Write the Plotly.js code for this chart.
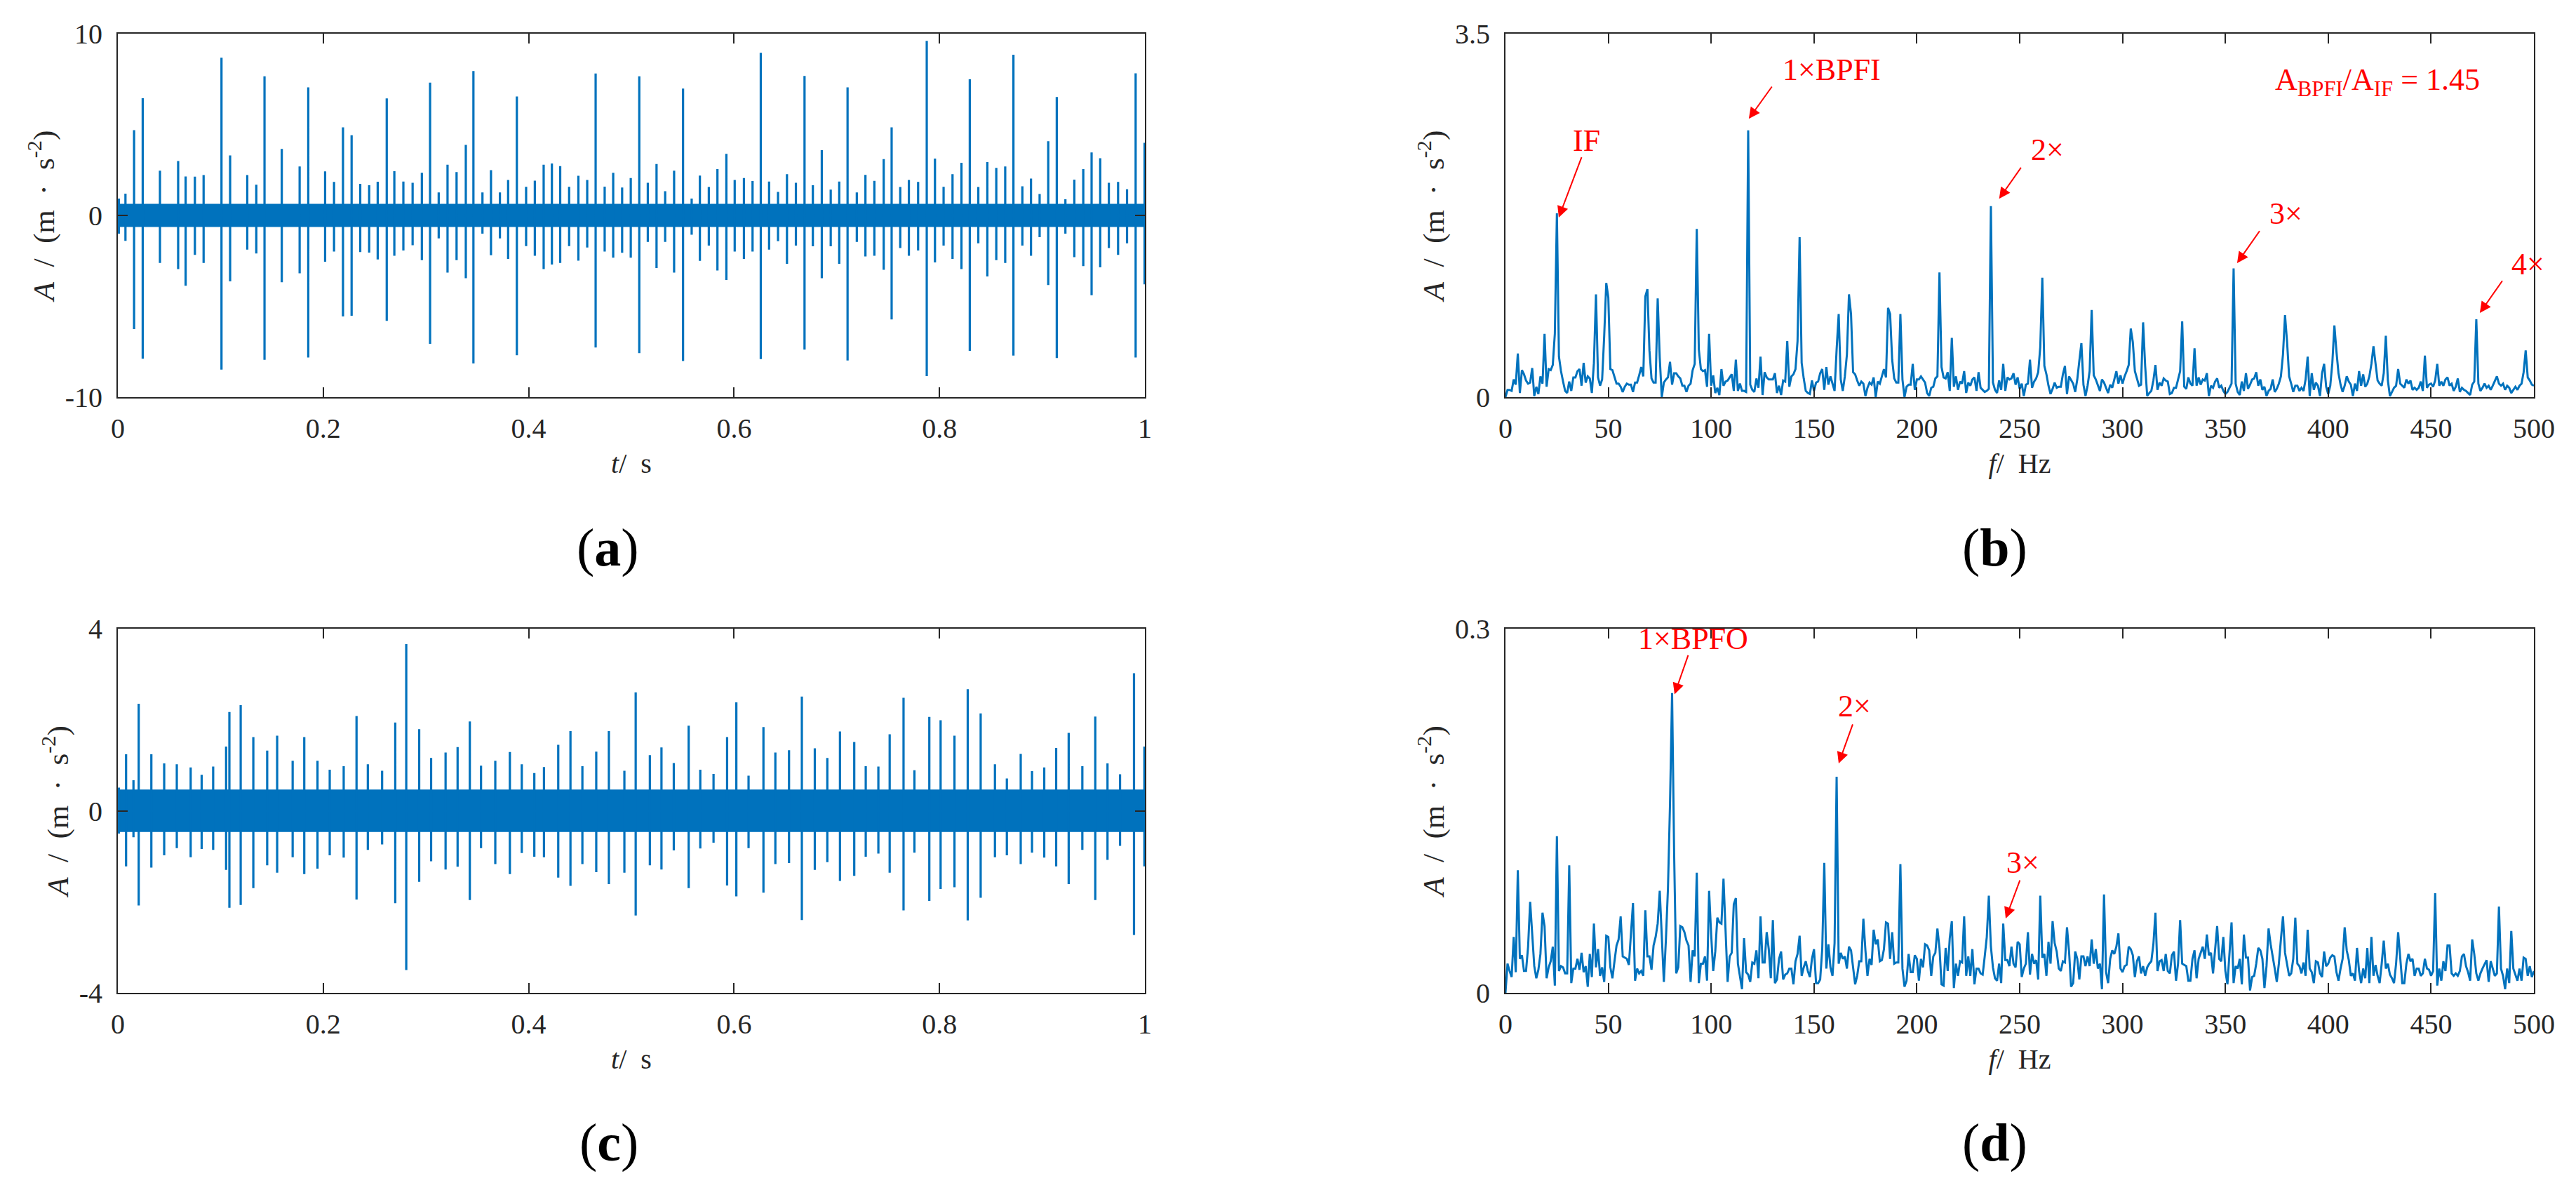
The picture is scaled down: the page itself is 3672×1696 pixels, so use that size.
<!DOCTYPE html>
<html>
<head>
<meta charset="utf-8">
<script src="https://cdn.plot.ly/plotly-3.0.1.min.js"></script>
<style>html,body{margin:0;padding:0;background:#fff;}#chart{width:3672px;height:1696px;}</style>
</head>
<body>
<div id="chart"></div>
<script>
// ---------- (a) time signal, inner-race fault: impulse times, positive and negative peaks ----------
const tA = [0.001,0.0074,0.0158,0.0242,0.041,0.0587,0.066,0.075,0.0835,0.1009,0.1093,0.126,0.1348,0.1428,0.1596,0.177,0.1854,0.2018,0.2105,0.2192,0.2276,0.236,0.2447,0.253,0.2618,0.2692,0.278,0.287,0.296,0.304,0.3124,0.321,0.3298,0.3388,0.3462,0.355,0.3633,0.372,0.380,0.3885,0.3975,0.406,0.4146,0.4226,0.4307,0.4394,0.4484,0.457,0.4652,0.474,0.4823,0.491,0.4994,0.5077,0.516,0.5245,0.5329,0.5416,0.5503,0.5587,0.5667,0.5754,0.5838,0.5925,0.6006,0.6096,0.618,0.626,0.6341,0.6428,0.6515,0.6602,0.6686,0.6767,0.6854,0.6941,0.7024,0.7105,0.7195,0.7279,0.7366,0.7457,0.7534,0.7618,0.7702,0.7792,0.7876,0.7956,0.804,0.8127,0.8214,0.8295,0.8378,0.8466,0.8553,0.864,0.872,0.8807,0.8891,0.8975,0.9059,0.9142,0.9226,0.9313,0.94,0.9481,0.9565,0.9649,0.9739,0.9826,0.991,0.9997];
const upA = [0.93,1.20,4.69,6.45,2.46,2.99,2.14,2.13,2.22,8.68,3.30,2.22,1.69,7.65,3.66,2.69,7.05,2.42,1.84,4.85,4.41,1.74,1.66,1.85,6.44,2.43,1.86,1.80,2.35,7.31,1.26,2.79,2.38,3.88,7.94,1.26,2.49,1.26,1.95,6.54,1.57,1.91,2.79,2.86,2.71,1.57,2.18,1.95,7.81,1.58,2.35,1.53,2.06,7.65,1.80,2.83,1.33,2.46,6.98,0.93,2.19,1.56,2.55,3.39,1.95,2.06,1.89,8.95,1.86,1.29,2.27,1.80,7.67,1.66,3.59,1.42,1.86,7.05,1.26,2.23,1.90,3.10,4.85,1.56,1.95,1.84,9.60,3.13,1.57,2.27,2.90,7.49,1.56,2.93,2.62,2.69,8.84,1.60,2.03,1.18,4.08,6.52,0.89,1.97,2.55,3.47,3.15,1.80,1.84,1.44,7.82,4.00];
const dnA = [-1.00,-1.40,-6.25,-7.89,-2.62,-2.95,-3.87,-2.17,-2.62,-8.48,-3.63,-1.88,-2.09,-7.94,-3.68,-3.19,-7.82,-2.55,-1.99,-5.56,-5.52,-2.02,-2.05,-2.42,-5.80,-2.22,-1.93,-1.64,-2.46,-7.07,-1.26,-3.15,-2.46,-3.46,-8.15,-1.00,-2.19,-1.26,-2.39,-7.69,-1.69,-2.22,-2.95,-2.70,-2.62,-1.69,-2.49,-1.77,-7.27,-1.99,-2.33,-2.06,-2.33,-7.58,-1.46,-2.90,-1.46,-3.15,-8.01,-1.06,-2.50,-1.66,-3.03,-3.55,-1.99,-2.39,-1.99,-7.91,-1.88,-1.42,-2.66,-1.66,-7.38,-1.70,-3.46,-1.70,-2.66,-7.98,-1.46,-2.26,-2.22,-2.99,-5.72,-1.80,-2.22,-1.93,-8.84,-2.59,-1.66,-2.39,-2.95,-7.45,-1.53,-3.36,-2.46,-2.62,-7.71,-1.66,-2.22,-1.20,-3.83,-7.85,-1.00,-2.30,-2.79,-4.39,-2.86,-1.80,-2.17,-1.53,-7.82,-3.79];
const noiseA = 0.6;   // half-width of the dense background band in (a)

// ---------- (c) time signal, outer-race fault ----------
const tC = [0.001,0.008,0.0152,0.0203,0.0326,0.0451,0.0574,0.0709,0.0816,0.0928,0.1054,0.1086,0.1196,0.1319,0.1454,0.1551,0.1702,0.1815,0.1944,0.2063,0.2199,0.2324,0.2434,0.2573,0.2701,0.2808,0.2934,0.305,0.3191,0.3308,0.3427,0.3536,0.3675,0.3817,0.3933,0.4055,0.4149,0.4288,0.4407,0.4523,0.4658,0.4781,0.4932,0.5042,0.518,0.5293,0.5413,0.5558,0.5671,0.58,0.5932,0.6022,0.6141,0.6286,0.6402,0.6535,0.666,0.6786,0.6908,0.7031,0.717,0.7282,0.7405,0.7515,0.765,0.7756,0.7901,0.8011,0.8146,0.8275,0.8401,0.854,0.8656,0.8791,0.8901,0.902,0.9136,0.9258,0.9391,0.9517,0.9636,0.9758,0.9894,0.9995];
const upC = [0.51,1.24,0.67,2.35,1.24,1.04,1.02,0.95,0.79,0.97,1.41,2.17,2.32,1.62,1.32,1.65,1.10,1.62,1.10,0.90,0.98,2.08,1.02,0.88,1.94,3.66,1.79,1.16,1.28,1.40,1.96,0.99,1.10,1.29,1.02,0.83,0.96,1.45,1.75,0.98,1.30,1.75,0.88,2.60,1.22,1.39,1.05,1.87,0.90,0.81,1.62,2.38,0.77,1.84,1.28,1.33,2.51,1.37,1.16,1.74,1.51,0.98,0.97,1.68,2.48,0.89,2.06,1.99,1.65,2.67,2.14,1.02,0.71,1.25,0.87,0.95,1.38,1.71,0.98,2.07,1.04,0.80,3.02,1.41];
const dnC = [-0.50,-1.22,-0.58,-2.08,-1.25,-0.98,-0.82,-1.02,-0.84,-0.86,-1.30,-2.13,-2.07,-1.70,-1.20,-1.36,-1.02,-1.39,-1.27,-0.98,-1.03,-1.95,-0.86,-0.74,-2.03,-3.50,-1.56,-1.11,-1.29,-1.23,-1.96,-0.82,-1.17,-1.39,-0.93,-1.01,-1.02,-1.47,-1.65,-1.17,-1.35,-1.61,-1.36,-2.30,-1.20,-1.29,-0.87,-1.70,-0.83,-0.70,-1.64,-1.88,-0.82,-1.80,-1.17,-1.15,-2.40,-1.30,-1.13,-1.54,-1.43,-1.01,-0.94,-1.36,-2.19,-0.92,-1.98,-1.72,-1.68,-2.41,-1.91,-1.02,-0.98,-1.17,-0.92,-1.03,-1.22,-1.61,-0.86,-1.96,-1.08,-0.77,-2.73,-1.22];
const noiseC = 0.45;  // half-width of the dense background band in (c)

// ---------- (b) envelope spectrum, 0..500 Hz at 1 Hz ----------
const specB = [
0,0.07,0.07,0.06,0.17,0.12,0.42,0.04,0.26,0.22,
0.16,0.13,0.14,0.28,0.01,0.10,0.03,0.20,0.13,0.61,
0.10,0.27,0.26,0.31,0.61,1.77,0.39,0.25,0.15,0.06,
0.04,0.15,0.06,0.19,0.19,0.25,0.27,0.11,0.33,0.14,
0.20,0.18,0.04,0.33,0.99,0.19,0.11,0.17,0.59,1.10,
0.96,0.27,0.26,0.20,0.13,0.13,0.10,0.05,0.10,0.13,
0.12,0.12,0.05,0.14,0.14,0.21,0.29,0.20,0.97,1.04,
0.45,0.18,0.14,0.14,0.95,0.38,0.00,0.14,0.17,0.19,
0.34,0.12,0.23,0.23,0.20,0.18,0.11,0.11,0.05,0.11,
0.13,0.26,0.32,1.62,0.46,0.27,0.25,0.26,0.10,0.61,
0.11,0.21,0.04,0.09,0.02,0.27,0.11,0.15,0.16,0.19,
0.22,0.06,0.36,0.06,0.13,0.06,0.06,0.05,2.57,0.12,
0.07,0.05,0.18,0.09,0.39,0.02,0.24,0.19,0.17,0.17,
0.17,0.23,0.04,0.11,0.02,0.16,0.15,0.54,0.10,0.20,
0.22,0.27,0.54,1.54,0.33,0.18,0.06,0.04,0.03,0.16,
0.06,0.14,0.15,0.23,0.27,0.07,0.29,0.12,0.20,0.13,
0.06,0.46,0.80,0.17,0.06,0.20,0.41,0.99,0.80,0.24,
0.22,0.16,0.11,0.15,0.13,0.01,0.09,0.14,0.12,0.19,
0.00,0.15,0.13,0.20,0.27,0.19,0.86,0.80,0.36,0.18,
0.14,0.14,0.80,0.17,0.00,0.10,0.12,0.12,0.32,0.07,
0.17,0.17,0.20,0.17,0.14,0.04,0.01,0.09,0.10,0.18,
0.20,1.20,0.29,0.19,0.18,0.24,0.06,0.57,0.10,0.20,
0.07,0.15,0.13,0.25,0.04,0.14,0.11,0.17,0.19,0.06,
0.24,0.09,0.07,0.05,0.06,0.08,1.84,0.14,0.07,0.04,
0.16,0.07,0.32,0.06,0.19,0.17,0.18,0.23,0.12,0.19,
0.08,0.13,0.01,0.12,0.13,0.36,0.09,0.15,0.18,0.24,
0.48,1.15,0.30,0.22,0.11,0.03,0.08,0.14,0.09,0.10,
0.10,0.22,0.30,0.03,0.20,0.16,0.13,0.05,0.17,0.35,
0.52,0.12,0.01,0.11,0.25,0.84,0.21,0.17,0.11,0.06,
0.17,0.14,0.09,0.04,0.12,0.09,0.17,0.25,0.13,0.21,
0.13,0.20,0.25,0.31,0.66,0.53,0.25,0.17,0.11,0.12,
0.72,0.30,0.01,0.04,0.06,0.16,0.31,0.07,0.14,0.11,
0.18,0.16,0.15,0.03,0.04,0.09,0.09,0.17,0.25,0.73,
0.10,0.08,0.19,0.13,0.11,0.47,0.11,0.19,0.12,0.17,
0.16,0.23,0.01,0.11,0.09,0.15,0.18,0.09,0.11,0.06,
0.03,0.05,0.09,0.13,1.24,0.13,0.05,0.02,0.15,0.06,
0.23,0.08,0.12,0.17,0.18,0.24,0.11,0.17,0.07,0.10,
0.01,0.06,0.08,0.17,0.05,0.08,0.13,0.20,0.41,0.79,
0.53,0.20,0.13,0.05,0.11,0.11,0.06,0.09,0.06,0.17,
0.39,0.01,0.23,0.07,0.14,0.11,0.01,0.23,0.32,0.10,
0.03,0.11,0.33,0.69,0.44,0.23,0.12,0.05,0.11,0.20,
0.15,0.12,0.01,0.13,0.06,0.25,0.11,0.22,0.10,0.13,
0.20,0.32,0.49,0.31,0.16,0.13,0.11,0.23,0.59,0.16,
0.01,0.05,0.09,0.11,0.27,0.13,0.11,0.09,0.17,0.13,
0.16,0.07,0.09,0.07,0.09,0.15,0.06,0.40,0.09,0.12,
0.13,0.10,0.16,0.32,0.11,0.15,0.11,0.17,0.19,0.11,
0.13,0.06,0.10,0.18,0.05,0.09,0.07,0.06,0.04,0.02,
0.12,0.15,0.75,0.13,0.06,0.09,0.13,0.09,0.11,0.07,
0.11,0.15,0.20,0.13,0.11,0.13,0.07,0.11,0.09,0.04,
0.07,0.10,0.07,0.11,0.13,0.24,0.45,0.19,0.16,0.12,
0.11];

// ---------- (d) envelope spectrum, 0..500 Hz at 1 Hz ----------
const specD = [
0.000,0.024,0.018,0.013,0.046,0.017,0.101,0.028,0.031,0.018,
0.018,0.038,0.075,0.050,0.022,0.012,0.019,0.032,0.066,0.055,
0.012,0.021,0.026,0.038,0.006,0.129,0.018,0.022,0.021,0.016,
0.016,0.105,0.008,0.020,0.020,0.028,0.019,0.033,0.017,0.022,
0.005,0.032,0.013,0.057,0.021,0.036,0.014,0.021,0.009,0.047,
0.046,0.021,0.012,0.026,0.039,0.044,0.063,0.030,0.029,0.028,
0.023,0.048,0.074,0.010,0.020,0.016,0.018,0.014,0.068,0.030,
0.030,0.019,0.039,0.046,0.057,0.084,0.044,0.009,0.044,0.086,
0.156,0.247,0.115,0.016,0.021,0.055,0.054,0.050,0.043,0.039,
0.009,0.035,0.030,0.099,0.008,0.024,0.024,0.030,0.010,0.084,
0.048,0.018,0.034,0.062,0.058,0.057,0.094,0.046,0.009,0.030,
0.033,0.073,0.078,0.024,0.013,0.003,0.045,0.017,0.015,0.009,
0.025,0.024,0.035,0.012,0.063,0.025,0.025,0.050,0.036,0.012,
0.060,0.008,0.011,0.028,0.034,0.011,0.015,0.016,0.020,0.020,
0.007,0.026,0.032,0.047,0.014,0.021,0.026,0.018,0.013,0.028,
0.036,0.008,0.008,0.011,0.036,0.107,0.020,0.040,0.021,0.014,
0.041,0.178,0.024,0.033,0.028,0.030,0.020,0.038,0.035,0.021,
0.007,0.014,0.026,0.026,0.061,0.035,0.014,0.028,0.023,0.052,
0.040,0.044,0.026,0.027,0.036,0.058,0.057,0.028,0.050,0.024,
0.025,0.025,0.106,0.020,0.005,0.010,0.032,0.017,0.017,0.031,
0.028,0.010,0.028,0.021,0.040,0.039,0.035,0.014,0.030,0.033,
0.053,0.037,0.007,0.006,0.037,0.018,0.045,0.059,0.004,0.024,
0.014,0.026,0.025,0.063,0.014,0.030,0.014,0.036,0.007,0.020,
0.020,0.016,0.015,0.030,0.046,0.080,0.038,0.021,0.012,0.010,
0.024,0.008,0.057,0.027,0.027,0.022,0.038,0.024,0.021,0.042,
0.040,0.013,0.020,0.024,0.050,0.015,0.032,0.024,0.027,0.011,
0.080,0.029,0.032,0.014,0.042,0.024,0.059,0.041,0.034,0.020,
0.018,0.026,0.025,0.054,0.034,0.005,0.008,0.034,0.028,0.011,
0.030,0.030,0.022,0.030,0.022,0.044,0.024,0.036,0.020,0.024,
0.003,0.081,0.017,0.008,0.028,0.035,0.032,0.038,0.049,0.020,
0.017,0.022,0.023,0.038,0.036,0.031,0.013,0.026,0.030,0.016,
0.022,0.014,0.021,0.024,0.026,0.040,0.066,0.018,0.026,0.027,
0.018,0.032,0.018,0.016,0.031,0.034,0.010,0.024,0.060,0.024,
0.023,0.022,0.010,0.010,0.028,0.035,0.012,0.028,0.033,0.038,
0.028,0.048,0.031,0.033,0.016,0.036,0.055,0.028,0.026,0.046,
0.018,0.007,0.032,0.058,0.008,0.022,0.020,0.028,0.007,0.048,
0.029,0.029,0.002,0.013,0.014,0.024,0.037,0.035,0.028,0.004,
0.022,0.053,0.040,0.031,0.020,0.009,0.024,0.044,0.063,0.033,
0.024,0.014,0.016,0.028,0.062,0.024,0.022,0.016,0.025,0.014,
0.052,0.020,0.017,0.008,0.026,0.025,0.016,0.013,0.034,0.022,
0.024,0.029,0.031,0.030,0.017,0.010,0.020,0.028,0.054,0.035,
0.027,0.014,0.016,0.010,0.037,0.018,0.008,0.020,0.012,0.037,
0.008,0.046,0.014,0.023,0.014,0.008,0.024,0.043,0.020,0.024,
0.015,0.012,0.008,0.024,0.050,0.028,0.008,0.008,0.024,0.032,
0.026,0.028,0.014,0.020,0.020,0.014,0.016,0.028,0.020,0.019,
0.014,0.018,0.082,0.006,0.020,0.010,0.026,0.018,0.039,0.039,
0.016,0.014,0.016,0.014,0.018,0.030,0.032,0.022,0.017,0.010,
0.044,0.032,0.016,0.010,0.016,0.020,0.024,0.027,0.009,0.026,
0.020,0.014,0.016,0.071,0.020,0.014,0.003,0.020,0.008,0.051,
0.020,0.015,0.010,0.020,0.010,0.029,0.028,0.014,0.022,0.013,
0.018];

const timeTicks = [0,0.2,0.4,0.6,0.8,1];
const timeTickText = ['0','0.2','0.4','0.6','0.8','1'];
const freqTicks = [0,50,100,150,200,250,300,350,400,450,500];

// ---------- build traces ----------
const BLUE = '#0072BD';
function spikes(t, up, dn, xa, ya){
  const x = [], y = [];
  for (let i = 0; i < t.length; i++){ x.push(t[i], t[i], t[i], t[i]); y.push(0, up[i], dn[i], 0); }
  return {x, y, xaxis: xa, yaxis: ya, type: 'scatter', mode: 'lines', line: {color: BLUE, width: 3.2}, hoverinfo: 'skip'};
}
function band(h, xa, ya){
  return {x: [0, 1, 1, 0, 0], y: [h, h, -h, -h, h], xaxis: xa, yaxis: ya, type: 'scatter', mode: 'lines',
    fill: 'toself', fillcolor: BLUE, line: {color: BLUE, width: 2}, hoverinfo: 'skip'};
}
function spec(vals, xa, ya){
  return {x: vals.map((v, i) => i), y: vals, xaxis: xa, yaxis: ya, type: 'scatter', mode: 'lines',
    line: {color: BLUE, width: 3}, hoverinfo: 'skip'};
}
const traces = [
  band(noiseA, 'x', 'y'), spikes(tA, upA, dnA, 'x', 'y'),
  spec(specB, 'x2', 'y2'),
  band(noiseC, 'x3', 'y3'), spikes(tC, upC, dnC, 'x3', 'y3'),
  spec(specD, 'x4', 'y4')
];

// ---------- layout ----------
const FONT = "'Liberation Serif', 'Times New Roman', serif";
const AX = '#262626';
const W = 3672, H = 1696;
const domL = [168 / W, 1632 / W], domR = [2146 / W, 3612 / W];
const domT = [1 - 566 / H, 1 - 48 / H], domB = [1 - 1415 / H, 1 - 896 / H];
function xax(dom, anchor, range, tv, tt, title){
  const a = {domain: dom, anchor: anchor, range: range, tickmode: 'array', tickvals: tv,
    showline: true, mirror: 'ticks', linecolor: AX, linewidth: 2, ticks: 'inside', ticklen: 14, tickwidth: 2, tickcolor: AX,
    showgrid: false, zeroline: false, ticklabelstandoff: 8,
    tickfont: {family: FONT, size: 40, color: AX},
    title: {text: title, font: {family: FONT, size: 40, color: AX}, standoff: 14}};
  if (tt) a.ticktext = tt;
  return a;
}
function yax(dom, anchor, range, tv, tt){
  return {domain: dom, anchor: anchor, range: range, tickmode: 'array', tickvals: tv, ticktext: tt,
    showline: true, mirror: 'ticks', linecolor: AX, linewidth: 2, ticks: 'inside', ticklen: 14, tickwidth: 2, tickcolor: AX,
    showgrid: false, zeroline: false, ticklabelstandoff: 12,
    tickfont: {family: FONT, size: 40, color: AX},
    title: {text: '<i>A</i>  /  (m  ·  s<sup>-2</sup>)', font: {family: FONT, size: 43, color: AX}, standoff: 2}};
}
const RED = '#FF0000';
function lbl(text, xr, yr, x, y){
  return {text, xref: xr, yref: yr, x, y, showarrow: false, font: {family: FONT, size: 44, color: RED}, xanchor: 'center', yanchor: 'middle'};
}
function arr(xr, yr, x0, y0, x1, y1){
  return {text: '', xref: xr, yref: yr, axref: xr, ayref: yr, x: x1, y: y1, ax: x0, ay: y0,
    showarrow: true, arrowhead: 2, arrowsize: 1.6, arrowwidth: 2, arrowcolor: RED, standoff: 0, startstandoff: 0};
}
function panel(text, x, y){
  return {text, xref: 'paper', yref: 'paper', x: x / W, y: 1 - y / H, showarrow: false,
    font: {family: FONT, size: 76, color: '#000'}, xanchor: 'center', yanchor: 'middle'};
}
const annotations = [
  lbl('IF', 'x2', 'y2', 39.3, 2.47), arr('x2', 'y2', 37.2, 2.32, 25.9, 1.73),
  lbl('1×BPFI', 'x2', 'y2', 158.6, 3.15), arr('x2', 'y2', 129.9, 3.0, 118.3, 2.68),
  lbl('2×', 'x2', 'y2', 263.5, 2.38), arr('x2', 'y2', 251, 2.22, 240, 1.91),
  lbl('3×', 'x2', 'y2', 379.6, 1.77), arr('x2', 'y2', 367, 1.61, 355.7, 1.29),
  lbl('4×', 'x2', 'y2', 497, 1.28), arr('x2', 'y2', 485, 1.13, 473.7, 0.81),
  lbl('A<sub>BPFI</sub>/A<sub>IF</sub> = 1.45', 'x2', 'y2', 424, 3.04),
  lbl('1×BPFO', 'x4', 'y4', 91.4, 0.2916), arr('x4', 'y4', 89, 0.279, 82.2, 0.246),
  lbl('2×', 'x4', 'y4', 169.8, 0.2364), arr('x4', 'y4', 169, 0.222, 162, 0.189),
  lbl('3×', 'x4', 'y4', 251.4, 0.1075), arr('x4', 'y4', 250.3, 0.0936, 243.2, 0.0613),
  panel('(<b>a</b>)', 866, 780), panel('(<b>b</b>)', 2843, 780),
  panel('(<b>c</b>)', 868, 1628), panel('(<b>d</b>)', 2843, 1628)
];
const layout = {
  width: W, height: H, margin: {l: 0, r: 0, t: 0, b: 0}, paper_bgcolor: '#fff', plot_bgcolor: '#fff',
  showlegend: false, font: {family: FONT, color: AX},
  xaxis: xax(domL, 'y', [0, 1], timeTicks, timeTickText, '<i>t</i>/  s'),
  yaxis: yax(domT, 'x', [-10, 10], [-10, 0, 10], ['-10', '0', '10']),
  xaxis2: xax(domR, 'y2', [0, 500], freqTicks, null, '<i>f</i>/  Hz'),
  yaxis2: yax(domT, 'x2', [0, 3.5], [0, 3.5], ['0', '3.5']),
  xaxis3: xax(domL, 'y3', [0, 1], timeTicks, timeTickText, '<i>t</i>/  s'),
  yaxis3: yax(domB, 'x3', [-4, 4], [-4, 0, 4], ['-4', '0', '4']),
  xaxis4: xax(domR, 'y4', [0, 500], freqTicks, null, '<i>f</i>/  Hz'),
  yaxis4: yax(domB, 'x4', [0, 0.3], [0, 0.3], ['0', '0.3']),
  annotations
};
Plotly.newPlot('chart', traces, layout, {staticPlot: true, displayModeBar: false});
</script>
</body>
</html>
